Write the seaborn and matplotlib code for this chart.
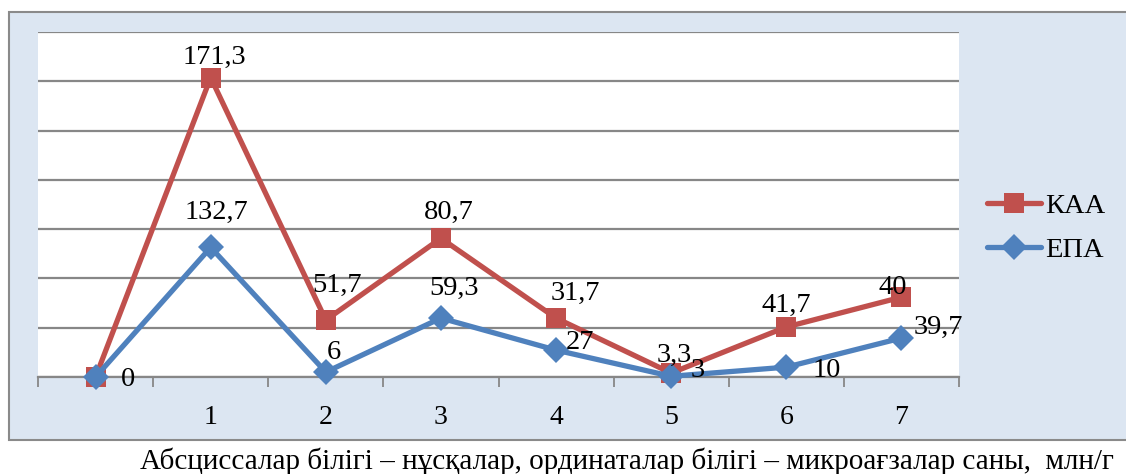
# plot.py
# Line chart: KAA vs EPA across variants 1..7 (microorganism counts, mln/g)

import numpy as np
import pandas as pd
import matplotlib
matplotlib.use("Agg")
import matplotlib.pyplot as plt
from matplotlib.patches import Rectangle
import seaborn as sns

# ── Data ──────────────────────────────────────────────────────────────────────
categories = ["", "1", "2", "3", "4", "5", "6", "7"]
kaa_values = [0, 121.5, 23.1, 56.3, 23.9, 1.6, 20.3, 32.4]
epa_values = [0, 52.6, 2.0, 23.9, 10.9, 0.3, 4.0, 15.8]
kaa_labels = ["", "171,3", "51,7", "80,7", "31,7", "3,3", "41,7", "40"]
epa_labels = ["0", "132,7", "6", "59,3", "27", "3", "10", "39,7"]
series_names = ["КАА", "ЕПА"]
caption = "Абсциссалар білігі – нұсқалар, ординаталар білігі – микроағзалар саны,  млн/г"

# ── Style ─────────────────────────────────────────────────────────────────────
sns.set_style("white")
plt.rcParams["font.family"] = ["Liberation Serif", "DejaVu Serif"]
plt.rcParams["text.color"] = "black"
plt.rcParams["xtick.labelcolor"] = "black"

RED = "#C0504D"
BLUE = "#4F81BD"
GRID = "#878787"
FRAME_BG = "#DCE6F2"

W, H = 1126, 474
fig = plt.figure(figsize=(W / 100, H / 100), dpi=100)
fig.patch.set_facecolor("white")

# chart frame (light blue box with gray border)
fig.patches.append(Rectangle((9 / W, 1 - 440 / H), 1.2, (440 - 12) / H,
                             transform=fig.transFigure, facecolor=FRAME_BG,
                             edgecolor="#8A8A8A", linewidth=1.5, zorder=-10))

ax = fig.add_axes([38 / W, 1 - 377 / H, 921 / W, 345 / H])
ax.set_facecolor("white")

df = pd.DataFrame({
    "x": list(range(len(categories))) * 2,
    "value": kaa_values + epa_values,
    "series": [series_names[0]] * len(categories) + [series_names[1]] * len(categories),
})

for name, color, marker, ms in [(series_names[0], RED, "s", 14.5), (series_names[1], BLUE, "D", 13)]:
    sub = df[df["series"] == name]
    sns.lineplot(data=sub, x="x", y="value", ax=ax, color=color, linewidth=3.8,
                 marker=marker, markersize=ms, markeredgewidth=0,
                 label=name, zorder=3, clip_on=False)

# ── Axes ──────────────────────────────────────────────────────────────────────
ax.set_xlim(-0.5, len(categories) - 0.5)
ax.set_ylim(0, 140)
ax.set_yticks(np.arange(0, 141, 20))
ax.set_yticklabels([])
ax.yaxis.grid(True, color=GRID, linewidth=1.6)
ax.set_axisbelow(True)
ax.tick_params(axis="y", length=0)

ax.set_xticks(range(len(categories)))
ax.set_xticklabels(categories, fontsize=20)
ax.set_xticks(np.arange(-0.5, len(categories)), minor=True)
ax.tick_params(axis="x", which="major", bottom=True, length=0, pad=20)
ax.tick_params(axis="x", which="minor", bottom=True, length=7, width=1.3,
               color=GRID, direction="out")
ax.set_xlabel("")
ax.set_ylabel("")

for side in ["top", "left", "right"]:
    ax.spines[side].set_visible(False)
ax.spines["bottom"].set_color(GRID)
ax.spines["bottom"].set_linewidth(1.6)

# ── Data labels ───────────────────────────────────────────────────────────────
kaa_offsets = [(0, 0), (4, 20), (11, 35), (8, 26), (19, 25), (3, 18), (0, 22), (-9, 10)]
epa_offsets = [(32, -2), (6, 35), (8, 20), (13, 30), (24, 8), (26, 6), (40, -3), (37, 11)]

for i, (v, lab) in enumerate(zip(kaa_values, kaa_labels)):
    if lab:
        ax.annotate(lab, (i, v), xytext=kaa_offsets[i], textcoords="offset pixels",
                    ha="center", va="center", fontsize=20.5, zorder=5, annotation_clip=False)
for i, (v, lab) in enumerate(zip(epa_values, epa_labels)):
    ax.annotate(lab, (i, v), xytext=epa_offsets[i], textcoords="offset pixels",
                ha="center", va="center", fontsize=20.5, zorder=5, annotation_clip=False)

# ── Legend ────────────────────────────────────────────────────────────────────
ax.legend(loc="center left", bbox_to_anchor=(987 / W, 1 - 228 / H),
          bbox_transform=fig.transFigure, frameon=False, fontsize=20.5,
          handlelength=1.9, handletextpad=0.15, labelspacing=0.65,
          borderpad=0, borderaxespad=0)

# ── Caption ───────────────────────────────────────────────────────────────────
fig.text(627 / W, 1 - 461 / H, caption, ha="center", va="center", fontsize=21)

fig.savefig("out.png", dpi=100)
